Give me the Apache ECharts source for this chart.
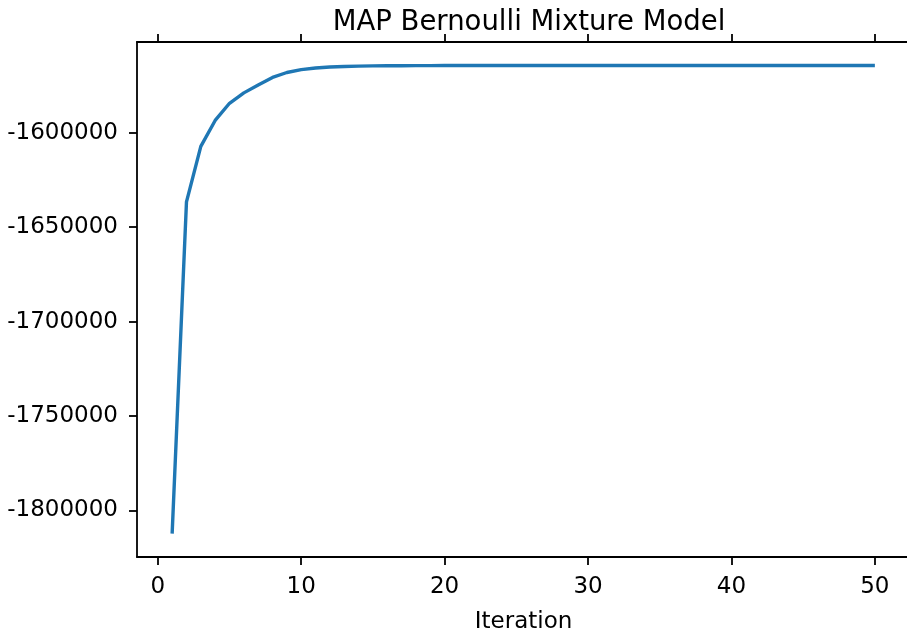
<!DOCTYPE html>
<html>
<head>
<meta charset="utf-8">
<title>MAP Bernoulli Mixture Model</title>
<script src="https://cdn.jsdelivr.net/npm/echarts@6/dist/echarts.min.js"></script>
<style>
  html, body { margin: 0; padding: 0; background: #fff; }
  #chart { width: 907px; height: 630px; }
</style>
</head>
<body>
<div id="chart"></div>
<script>
// log-likelihood per EM iteration
const iterations = [];
for (let i = 1; i <= 50; i++) iterations.push(i);

const logLik = [
    -1812300, -1636600, -1607200, -1593500, -1584400,
    -1578900, -1574700, -1570700, -1568100, -1566600,
    -1565700, -1565200, -1564950, -1564750, -1564620,
    -1564540, -1564490, -1564460, -1564440, -1564425,
    -1564415, -1564410, -1564405, -1564400, -1564398,
    -1564395, -1564393, -1564390, -1564388, -1564386,
    -1564384, -1564382, -1564380, -1564379, -1564378,
    -1564377, -1564376, -1564375, -1564374, -1564373,
    -1564372, -1564371, -1564370, -1564369, -1564368,
    -1564367, -1564366, -1564365, -1564364, -1564363
];

const xTicks = [0, 10, 20, 30, 40, 50];
const yTicks = [-1800000, -1750000, -1700000, -1650000, -1600000];

// matplotlib-like 5% margins
const xMin = -1.45, xMax = 52.45;
const yMin = -1824700, yMax = -1551950;

const FONT = "DejaVu Sans";
const axisLine = { show: true, onZero: false, lineStyle: { color: "#000", width: 1.8 } };
const axisTick = { show: true, inside: false, length: 8, lineStyle: { color: "#000", width: 1.8 } };

const chart = echarts.init(document.getElementById("chart"), null, { renderer: "canvas" });

chart.setOption({
    animation: false,
    backgroundColor: "#fff",
    title: {
        text: "MAP Bernoulli Mixture Model",
        left: 524,
        textAlign: "center",
        top: 4,
        textStyle: { fontFamily: FONT, fontSize: 27.5, fontWeight: "normal", color: "#000" }
    },
    grid: { left: 137, top: 42, right: -3, bottom: 73, containLabel: false, outerBoundsMode: "none" },
    xAxis: [{
        type: "value",
        position: "bottom",
        min: xMin,
        max: xMax,
        name: "Iteration",
        nameLocation: "middle",
        nameGap: 54,
        nameTextStyle: { fontFamily: FONT, fontSize: 23, color: "#000" },
        axisLine: axisLine,
        axisTick: Object.assign({ customValues: xTicks }, axisTick),
        axisLabel: { customValues: xTicks, margin: 19, fontFamily: FONT, fontSize: 23, color: "#000" },
        splitLine: { show: false }
    }, {
        type: "value",
        position: "top",
        min: xMin,
        max: xMax,
        axisLine: axisLine,
        axisTick: Object.assign({ customValues: xTicks }, axisTick),
        axisLabel: { show: false },
        splitLine: { show: false }
    }],
    yAxis: [{
        type: "value",
        position: "left",
        min: yMin,
        max: yMax,
        axisLine: axisLine,
        axisTick: Object.assign({ customValues: yTicks }, axisTick),
        axisLabel: {
            customValues: yTicks, margin: 19, fontFamily: FONT, fontSize: 23, color: "#000",
            formatter: v => String(v)
        },
        splitLine: { show: false }
    }, {
        type: "value",
        position: "right",
        min: yMin,
        max: yMax,
        axisLine: axisLine,
        axisTick: { show: false },
        axisLabel: { show: false },
        splitLine: { show: false }
    }],
    series: [{
        type: "line",
        xAxisIndex: 0,
        yAxisIndex: 0,
        data: iterations.map((it, i) => [it, logLik[i]]),
        showSymbol: false,
        symbol: "none",
        lineStyle: { color: "#1f77b4", width: 3.4 },
        itemStyle: { color: "#1f77b4" }
    }]
});
</script>
</body>
</html>
